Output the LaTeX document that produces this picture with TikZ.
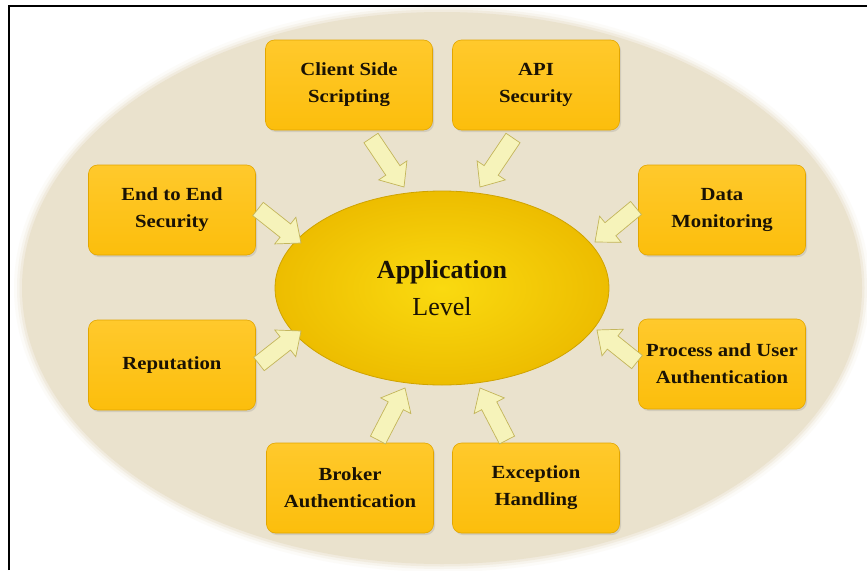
\documentclass[tikz,border=0pt]{standalone}
\usepackage{fontspec}
\setmainfont{Liberation Serif}
\newfontfamily\boxfont{Liberation Serif}[FakeStretch=1.12]
\usetikzlibrary{calc,shapes.geometric,shadows}

\definecolor{beige}{HTML}{EAE2CD}
\definecolor{boxfill}{HTML}{FCBE0C}
\definecolor{boxtop}{HTML}{FFC92C}
\definecolor{boxedge}{HTML}{E2A600}
\definecolor{appin}{HTML}{FADA10}
\definecolor{appout}{HTML}{EDBD00}
\definecolor{appedge}{HTML}{CFA300}
\definecolor{arrfill}{HTML}{F6F3BA}
\definecolor{arredge}{HTML}{C4B65C}
\definecolor{arrshade}{HTML}{A89A3A}
\definecolor{ink}{HTML}{1A1204}

\tikzset{
  topic/.style={rectangle, rounded corners=9pt, minimum width=167pt,
    minimum height=90pt, draw=boxedge, line width=0.6pt,
    top color=boxtop, bottom color=boxfill, text=ink, align=center,
    font=\boxfont\bfseries\fontsize{18.5}{27}\selectfont,
    drop shadow={shadow xshift=1.5pt, shadow yshift=-2pt, opacity=0.22}},
  core/.style={ellipse, minimum width=334pt, minimum height=194pt,
    draw=appedge, line width=0.8pt, inner color=appin, outer color=appout,
    text=ink, align=center, font=\fontsize{26}{37}\selectfont},
  arrowbody/.style={fill=arrfill, draw=arredge, line width=0.7pt,
    line join=miter},
  arrowshade/.style={fill=arrshade, opacity=0.45},
  frameline/.style={line width=2pt, black}
}

% outline of a block arrow from tail #1 to tip #2
\newcommand\arrowoutline[2]{%
  ($(#1)!8.5pt!90:(#2)$) -- ($(neck)!8.5pt!90:(#2)$) --
  ($(neck)!17pt!90:(#2)$) -- (#2) --
  ($(neck)!17pt!-90:(#2)$) -- ($(neck)!8.5pt!-90:(#2)$) --
  ($(#1)!8.5pt!-90:(#2)$) -- cycle}

% block arrow with a soft offset shade beneath it
\newcommand\blockarrow[2]{%
  \coordinate (neck) at ($(#2)!20pt!(#1)$);
  \fill[arrowshade, shift={(1.2pt,-1.6pt)}] \arrowoutline{#1}{#2};
  \filldraw[arrowbody] \arrowoutline{#1}{#2};
}

\begin{document}
\begin{tikzpicture}[x=1pt, y=-1pt]
  \useasboundingbox (0,0) rectangle (867,570);
  \fill[white] (0,0) rectangle (867,570);

  % soft beige backdrop
  \foreach \d/\o in {8/0.12, 5/0.25, 2.5/0.45}
    \fill[beige, opacity=\o] (442,288) ellipse ({420+\d} and {276+\d});
  \fill[beige] (442,288) ellipse (420 and 276);

  % frame lines
  \draw[frameline] (9,570) -- (9,6) -- (867,6);

  % central ellipse
  \node[core] (app) at (442,288) {{\bfseries Application}\\Level};

  % surrounding topics
  \node[topic] (client)  at (349,85)  {Client Side\\Scripting};
  \node[topic] (api)     at (536,85)  {API\\Security};
  \node[topic] (e2e)     at (172,210) {End to End\\Security};
  \node[topic] (data)    at (722,210) {Data\\Monitoring};
  \node[topic] (rep)     at (172,365) {Reputation};
  \node[topic] (proc)    at (722,364) {Process and User\\Authentication};
  \node[topic] (broker)  at (350,488) {Broker\\Authentication};
  \node[topic] (exc)     at (536,488) {Exception\\Handling};

  % arrow tails and tips
  \coordinate (t1) at (371,138); \coordinate (h1) at (404,187);
  \coordinate (t2) at (513,138); \coordinate (h2) at (480,187);
  \coordinate (t3) at (258,209); \coordinate (h3) at (301,243);
  \coordinate (t4) at (636,208); \coordinate (h4) at (595,242);
  \coordinate (t5) at (259,364); \coordinate (h5) at (301,331);
  \coordinate (t6) at (637,362); \coordinate (h6) at (597,330);
  \coordinate (t7) at (378,440); \coordinate (h7) at (405,388);
  \coordinate (t8) at (507,440); \coordinate (h8) at (480,388);

  \foreach \i in {1,...,8} { \blockarrow{t\i}{h\i} }
\end{tikzpicture}
\end{document}
